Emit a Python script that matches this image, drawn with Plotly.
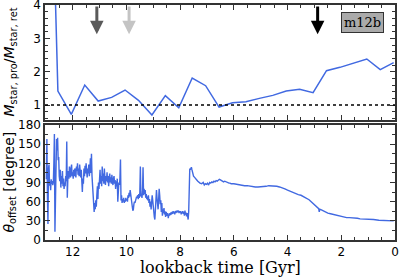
import plotly.graph_objects as go
from plotly.subplots import make_subplots

# ---- top panel: mass ratio (prograde / retrograde) ----
ratio_t = [13.05, 12.55, 12.05, 11.55, 11.05, 10.55, 10.05, 9.55, 9.05, 8.55, 8.05,
           7.55, 7.05, 6.55, 6.05, 5.55, 5.05, 4.55, 4.05, 3.55, 3.05, 2.55, 2.05,
           1.55, 1.05, 0.55, 0.05]
ratio_v = [16.3, 1.42, 0.72, 1.60, 1.12, 1.23, 1.45, 1.14, 0.70, 1.28, 0.92,
           1.81, 1.58, 0.94, 1.07, 1.10, 1.20, 1.29, 1.42, 1.47, 1.37, 2.03, 2.13,
           2.25, 2.38, 2.06, 2.27]

# ---- bottom panel: offset angle ----
theta_t = [12.98, 12.96, 12.94, 12.92, 12.90, 12.88, 12.86, 12.84, 12.82, 12.80, 12.78,
           12.76, 12.74, 12.72, 12.70, 12.68, 12.66, 12.64, 12.62, 12.60, 12.58, 12.56,
           12.54, 12.52, 12.50,
           12.48, 12.46, 12.44, 12.42, 12.40, 12.38, 12.36, 12.34, 12.32, 12.30, 12.28,
           12.26, 12.24, 12.22, 12.20, 12.18, 12.16, 12.14, 12.12, 12.10, 12.08, 12.06,
           12.04, 12.02, 12.00, 11.98, 11.96, 11.94, 11.92, 11.90, 11.88, 11.86, 11.84,
           11.82, 11.80, 11.78, 11.76, 11.74, 11.72, 11.70, 11.68, 11.66, 11.64, 11.62,
           11.60, 11.58, 11.56, 11.54, 11.52, 11.50, 11.48, 11.46, 11.44, 11.42, 11.40,
           11.38, 11.36,
           11.34, 11.32, 11.30, 11.28, 11.26, 11.24, 11.22, 11.20, 11.18, 11.16, 11.14,
           11.12, 11.10, 11.08, 11.06, 11.04, 11.02, 11.00,
           10.98, 10.96, 10.94, 10.92, 10.90, 10.88, 10.86, 10.84, 10.82, 10.80, 10.78,
           10.76, 10.74, 10.72, 10.70, 10.68, 10.66, 10.64, 10.62, 10.60, 10.58, 10.56,
           10.54, 10.52, 10.50, 10.48, 10.46, 10.44, 10.42, 10.40, 10.38, 10.36, 10.34,
           10.32, 10.30, 10.28, 10.26, 10.24, 10.22, 10.20,
           10.18, 10.16, 10.14, 10.12, 10.10, 10.08, 10.06, 10.04, 10.02, 10.00, 9.98,
           9.96, 9.94, 9.92, 9.90, 9.88, 9.86, 9.84, 9.82, 9.80, 9.78, 9.76, 9.74, 9.72,
           9.70, 9.68, 9.66, 9.64, 9.62, 9.60, 9.58, 9.56, 9.54, 9.52, 9.50, 9.48, 9.46,
           9.44, 9.42, 9.40, 9.38, 9.36, 9.34, 9.32, 9.30, 9.28, 9.26, 9.24, 9.22, 9.20,
           9.18, 9.16, 9.14, 9.12, 9.10, 9.08, 9.06, 9.04, 9.02, 9.00, 8.98, 8.96, 8.94,
           8.92, 8.90, 8.88, 8.86, 8.84, 8.82, 8.80, 8.78, 8.76, 8.74, 8.72, 8.70, 8.68,
           8.66, 8.64, 8.62, 8.60, 8.58, 8.56, 8.54, 8.52, 8.50, 8.48, 8.46, 8.44, 8.42,
           8.40, 8.38, 8.36, 8.34, 8.32, 8.30, 8.28, 8.26, 8.24, 8.22, 8.20, 8.18, 8.16,
           8.14, 8.12, 8.10, 8.08, 8.06, 8.04, 8.02, 8.00, 7.98, 7.96, 7.94, 7.92, 7.90,
           7.88, 7.86, 7.84, 7.82, 7.80, 7.78, 7.76, 7.74, 7.72, 7.70, 7.68, 7.66, 7.64,
           7.62, 7.60, 7.58, 7.56, 7.54, 7.52, 7.50, 7.46, 7.42, 7.38, 7.34, 7.30,
           7.26, 7.20, 7.14, 7.10, 7.06, 7.02, 6.98, 6.94, 6.90, 6.86, 6.82, 6.78, 6.74,
           6.70, 6.66, 6.62, 6.58, 6.54, 6.50, 6.46, 6.42, 6.38, 6.34, 6.30, 6.26, 6.22,
           6.18, 6.14, 6.10, 6.00, 5.90, 5.80, 5.70, 5.60, 5.50, 5.40, 5.30, 5.20, 5.10,
           5.00, 4.90, 4.80, 4.70, 4.60, 4.50, 4.40, 4.30, 4.20, 4.10, 4.00, 3.90, 3.80,
           3.70, 3.60, 3.50, 3.40, 3.30, 3.20, 3.10, 3.00, 2.90, 2.84, 2.82, 2.80, 2.74,
           2.70, 2.60, 2.50, 2.40, 2.30, 2.20, 2.10, 2.00, 1.90, 1.80, 1.70, 1.60, 1.50,
           1.40, 1.30, 1.20, 1.10, 1.00, 0.80, 0.60, 0.40, 0.20, 0.05]
theta_v = [95, 158, 70, 25, 112, 118, 85, 92, 78, 95, 88,
           92, 86, 90, 120, 166, 13, 55, 110, 158, 140, 160,
           125, 130, 100,
           92, 110, 82, 100, 88, 108, 84, 96, 80, 90, 84,
           100, 92, 154, 66, 95, 108, 96, 115, 104, 98, 112,
           118, 100, 106, 96, 110, 100, 112, 104, 98, 115, 108,
           120, 102, 112, 100, 118, 106, 98, 110, 92, 75, 96,
           88, 112, 100, 116, 104, 120, 110, 98, 112, 104, 118,
           100, 110,
           128, 105, 135, 100, 80, 62, 50, 44, 58, 48, 62,
           52, 70, 84, 64, 90, 80, 95,
           110, 88, 100, 84, 115, 92, 104, 88, 112, 96, 86,
           100, 92, 106, 90, 100, 84, 96, 104, 90, 98, 88,
           102, 92, 86, 96, 100, 88, 94, 80, 92, 84, 96,
           60, 80, 90, 86, 96, 126, 62,
           70, 58, 64, 60, 66, 58, 62, 60, 66, 62, 64,
           60, 70, 66, 74, 68, 78, 72, 62, 58, 52, 46, 48, 56,
           60, 58, 64, 62, 68, 66, 70, 64, 72, 66, 74, 115, 68,
           72, 66, 76, 114, 70, 80, 72, 78, 66, 72, 64, 68, 62,
           70, 58, 64, 52, 60, 48, 56, 70, 62, 48, 42, 36, 32,
           48, 62, 78, 66, 54, 48, 62, 80, 70, 56, 62, 44, 58,
           38, 48, 42, 50, 40, 45, 36, 44, 40, 38, 42, 34, 40,
           38, 42, 39, 43, 40, 44, 41, 45, 42, 44, 40, 45, 42,
           46, 43, 46, 44, 46, 42, 45, 43, 45, 40, 44, 42, 45,
           41, 44, 38, 46, 40, 43, 37, 42, 36, 32, 45, 108, 112,
           110, 113, 114, 110, 106, 103, 100, 98, 95, 94, 92, 90,
           89, 88, 90, 86, 88, 87, 89, 86, 90, 89, 91, 90, 92,
           91, 93, 92, 94, 95, 94, 93, 92, 91, 92, 91, 90, 90,
           89, 89, 88, 88, 87, 86, 86, 85, 85, 84, 83, 83, 83,
           83, 84, 84, 85, 85, 85, 84, 83, 82, 80, 78, 76, 74,
           73, 71, 70, 68, 66, 63, 59, 55, 51, 49, 44, 48, 47,
           46, 44, 42, 41, 40, 38, 37, 36, 36, 35, 35, 35, 34,
           34, 33, 33, 32, 32, 32, 31, 31, 31, 30]

arrow_t = [11.1, 9.9, 2.88]
arrow_colors = ["#5a5a5a", "#c4c4c4", "#000000"]
x_ticks = [0, 2, 4, 6, 8, 10, 12]
ratio_ticks = [1, 2, 3, 4]
theta_ticks = [0, 30, 60, 90, 120, 150, 180]

BLUE = "#4169E1"
SANS = "DejaVu Sans"
SERIF = "DejaVu Serif"

fig = make_subplots(rows=2, cols=1, shared_xaxes=True, vertical_spacing=0.021,
                    row_heights=[0.5, 0.5])

fig.add_trace(go.Scatter(x=ratio_t, y=ratio_v, mode="lines",
                         line=dict(color=BLUE, width=1.5), showlegend=False),
              row=1, col=1)
fig.add_trace(go.Scatter(x=theta_t, y=theta_v, mode="lines",
                         line=dict(color=BLUE, width=1.4), showlegend=False),
              row=2, col=1)

# dotted reference line at ratio = 1
fig.add_shape(type="line", xref="x domain", yref="y", x0=0, x1=1, y0=1, y1=1,
              line=dict(color="black", width=1.4, dash="dot"))

# arrows
for t, c in zip(arrow_t, arrow_colors):
    fig.add_annotation(x=t, y=3.12, ax=t, ay=4.0, xref="x", yref="y",
                       axref="x", ayref="y", showarrow=True, text="",
                       arrowhead=2, arrowsize=0.9, arrowwidth=3.0, arrowcolor=c)

# label box
fig.add_annotation(x=0.907, y=0.846, xref="x domain", yref="y domain",
                   text="m12b", showarrow=False,
                   font=dict(family=SERIF, size=13, color="black"),
                   bgcolor="#aaaaaa", bordercolor="#333333", borderwidth=1,
                   borderpad=2, xanchor="center", yanchor="middle")

# axis titles as annotations
fig.add_annotation(x=-0.1, y=0.5, xref="paper", yref="y domain",
                   text="<i>M</i><sub>star, pro</sub>/<i>M</i><sub>star, ret</sub>",
                   textangle=-90, showarrow=False, xanchor="center", yanchor="middle",
                   font=dict(family=SANS, size=14, color="black"))
fig.add_annotation(x=-0.1, y=0.5, xref="paper", yref="y2 domain",
                   text="<i>θ</i><sub>offset</sub> [degree]",
                   textangle=-90, showarrow=False, xanchor="center", yanchor="middle",
                   font=dict(family=SANS, size=14, color="black"))
fig.add_annotation(x=0.5, y=-0.118, xref="paper", yref="paper",
                   text="lookback time [Gyr]", showarrow=False,
                   xanchor="center", yanchor="middle",
                   font=dict(family=SERIF, size=16, color="black"))

axis_common = dict(showline=True, linecolor="#333333", linewidth=1.6, mirror="allticks",
                   ticks="inside", ticklen=5, tickwidth=1, tickcolor="#333333",
                   showgrid=False, zeroline=False, automargin=False,
                   ticklabeloverflow="allow",
                   tickfont=dict(family=SANS, size=12, color="black"))

fig.update_xaxes(range=[13.03, 0], tickvals=x_ticks, ticktext=[str(v) for v in x_ticks],
                 minor=dict(dtick=0.5, ticks="inside", ticklen=3, tickcolor="#333333",
                            showgrid=False),
                 **axis_common)
fig.update_xaxes(showticklabels=False, row=1, col=1)
fig.update_yaxes(range=[0.55, 4.0], tickvals=ratio_ticks,
                 ticktext=[str(v) for v in ratio_ticks],
                 minor=dict(dtick=0.2, tick0=0, ticks="inside", ticklen=3,
                            tickcolor="#333333", showgrid=False),
                 row=1, col=1, **axis_common)
fig.update_yaxes(range=[0, 180], tickvals=theta_ticks,
                 ticktext=[str(v) for v in theta_ticks],
                 minor=dict(dtick=15, tick0=0, ticks="inside", ticklen=3,
                            tickcolor="#333333", showgrid=False),
                 row=2, col=1, **axis_common)

fig.update_layout(width=399, height=277, template="none",
                  margin=dict(l=45, r=4, t=5, b=37),
                  paper_bgcolor="white", plot_bgcolor="white",
                  showlegend=False, hovermode=False)

fig.write_html("out.html", config={"displayModeBar": False, "staticPlot": True},
               post_script="document.body.style.margin='0';"
                           "document.body.style.overflow='hidden';")
